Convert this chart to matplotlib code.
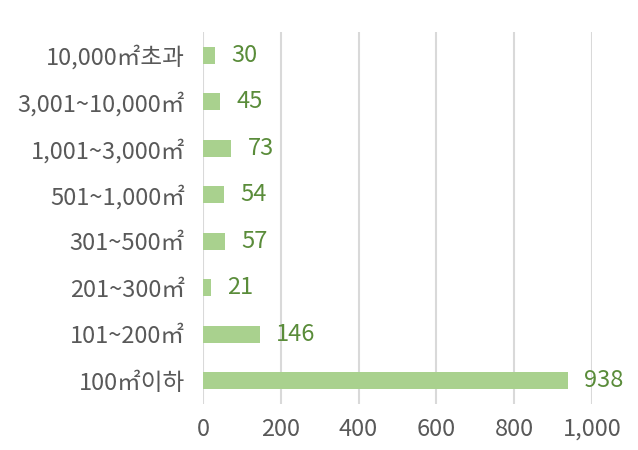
import matplotlib
matplotlib.use("Agg")
import matplotlib.pyplot as plt
from matplotlib.ticker import FuncFormatter

plt.rcParams['font.family'] = ['Noto Sans CJK KR', 'DejaVu Sans']

categories = ["100㎡이하", "101~200㎡", "201~300㎡", "301~500㎡",
              "501~1,000㎡", "1,001~3,000㎡", "3,001~10,000㎡", "10,000㎡초과"]
counts = [938, 146, 21, 57, 54, 73, 45, 30]
xticks = [0, 200, 400, 600, 800, 1000]

bar_color = "#a9d18e"
label_color = "#5a8c3a"
text_color = "#595959"

fig = plt.figure(figsize=(6.38, 4.5), dpi=100)
ax = fig.add_axes([0.318, 0.102, 0.61, 0.827])

y = range(len(categories))
ax.barh(y, counts, height=0.36, color=bar_color, zorder=3)
for yi, v in zip(y, counts):
    ax.text(v + 42, yi, f"{v:,}", va="center", ha="left",
            fontsize=17, color=label_color, zorder=4)

ax.set_xlim(0, 1000)
ax.set_ylim(-0.5, len(categories) - 0.5)
ax.set_xticks(xticks)
ax.xaxis.set_major_formatter(FuncFormatter(lambda v, p: f"{int(v):,}"))
ax.set_yticks(list(y))
ax.set_yticklabels(categories)
ax.tick_params(axis="both", length=0, labelsize=17, colors=text_color)
ax.tick_params(axis="x", pad=10)
ax.tick_params(axis="y", pad=13)
ax.grid(axis="x", color="#d9d9d9", linewidth=1.5, zorder=0)
for s in ax.spines.values():
    s.set_visible(False)

fig.savefig("out.png", dpi=100)
